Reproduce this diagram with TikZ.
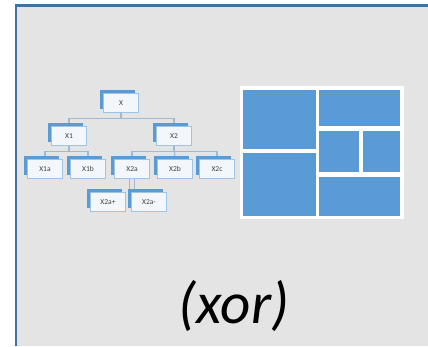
\documentclass[tikz,border=0pt]{standalone}
\usepackage{fontspec}
\setmainfont{Carlito}
\usepackage{xcolor}
\usetikzlibrary{shadows,backgrounds}
\definecolor{frameblue}{HTML}{41719C}
\definecolor{panelgray}{HTML}{E4E4E4}
\definecolor{tileblue}{HTML}{5B9BD5}
\definecolor{cardline}{HTML}{9DC3E6}
\definecolor{cardfill}{HTML}{F3F7FC}
\definecolor{linkblue}{HTML}{9FBAD6}
\newlength{\cardw}
\setlength{\cardw}{35pt}

\begin{document}
\begin{tikzpicture}[x=1pt,y=-1pt,
    card/.style={draw=cardline,fill=cardfill,line width=0.7pt,minimum width=\cardw,minimum height=19pt,inner sep=0pt,
        font=\fontsize{7.5}{8}\selectfont,text=black!75,
        copy shadow={shadow xshift=-3.5pt,shadow yshift=3.5pt,fill=tileblue,draw=none}},
    link/.style={draw=linkblue,line width=1.2pt}]
            \useasboundingbox (0,0) rectangle (428,346);
            \begin{scope}[on background layer]
                \fill[panelgray] (16,5.5) rectangle (428,346);
            \end{scope}
            \draw[frameblue,line width=2.8pt] (16,346) -- (16,5.5) -- (428,5.5);
            % the tree
            \node[card] (x) at (121,103) {X};
            \node[card] (x1) at (69,136) {X1};
            \node[card] (x2) at (174,136) {X2};
            \node[card] (x1a) at (45,169) {X1a};
            \node[card] (x1b) at (88,169) {X1b};
            \node[card] (x2a) at (132,169) {X2a};
            \node[card] (x2b) at (175,169) {X2b};
            \node[card] (x2c) at (217,169) {X2c};
            \node[card] (x2ap) at (108,202) {X2a+};
            \node[card] (x2am) at (149,202) {X2a-};
            \begin{scope}[on background layer]
                \draw[link] (x.south) -- ++(0,5.5) -| (x1.north);
                \draw[link] (x.south) -- ++(0,5.5) -| (x2.north);
                \draw[link] (x1.south) -- ++(0,5.5) -| (x1a.north);
                \draw[link] (x1.south) -- ++(0,5.5) -| (x1b.north);
                \draw[link] (x2.south) -- ++(0,5.5) -| (x2a.north);
                \draw[link] (x2.south) -- (x2b.north);
                \draw[link] (x2.south) -- ++(0,5.5) -| (x2c.north);
                \draw[link] ([xshift=-2.5pt]x2a.south) -- ([xshift=-2.5pt]x2a.south |- x2ap.north);
                \draw[link] ([xshift=2.5pt]x2a.south) -- ([xshift=2.5pt]x2a.south |- x2am.north);
            \end{scope}
            % the tiled panel
            \fill[white] (240,86) rectangle (404,219);
            \fill[tileblue] (243,90) rectangle (316,149);
            \fill[tileblue] (243,153) rectangle (316,216);
            \fill[tileblue] (319,90) rectangle (400,126);
            \fill[tileblue] (319,131) rectangle (359,172);
            \fill[tileblue] (363,131) rectangle (400,172);
            \fill[tileblue] (319,177) rectangle (400,216);
            \node[font=\fontsize{59}{64}\selectfont\itshape,anchor=base] (op) at (234,323) {(xor)};
\end{tikzpicture}
\end{document}
